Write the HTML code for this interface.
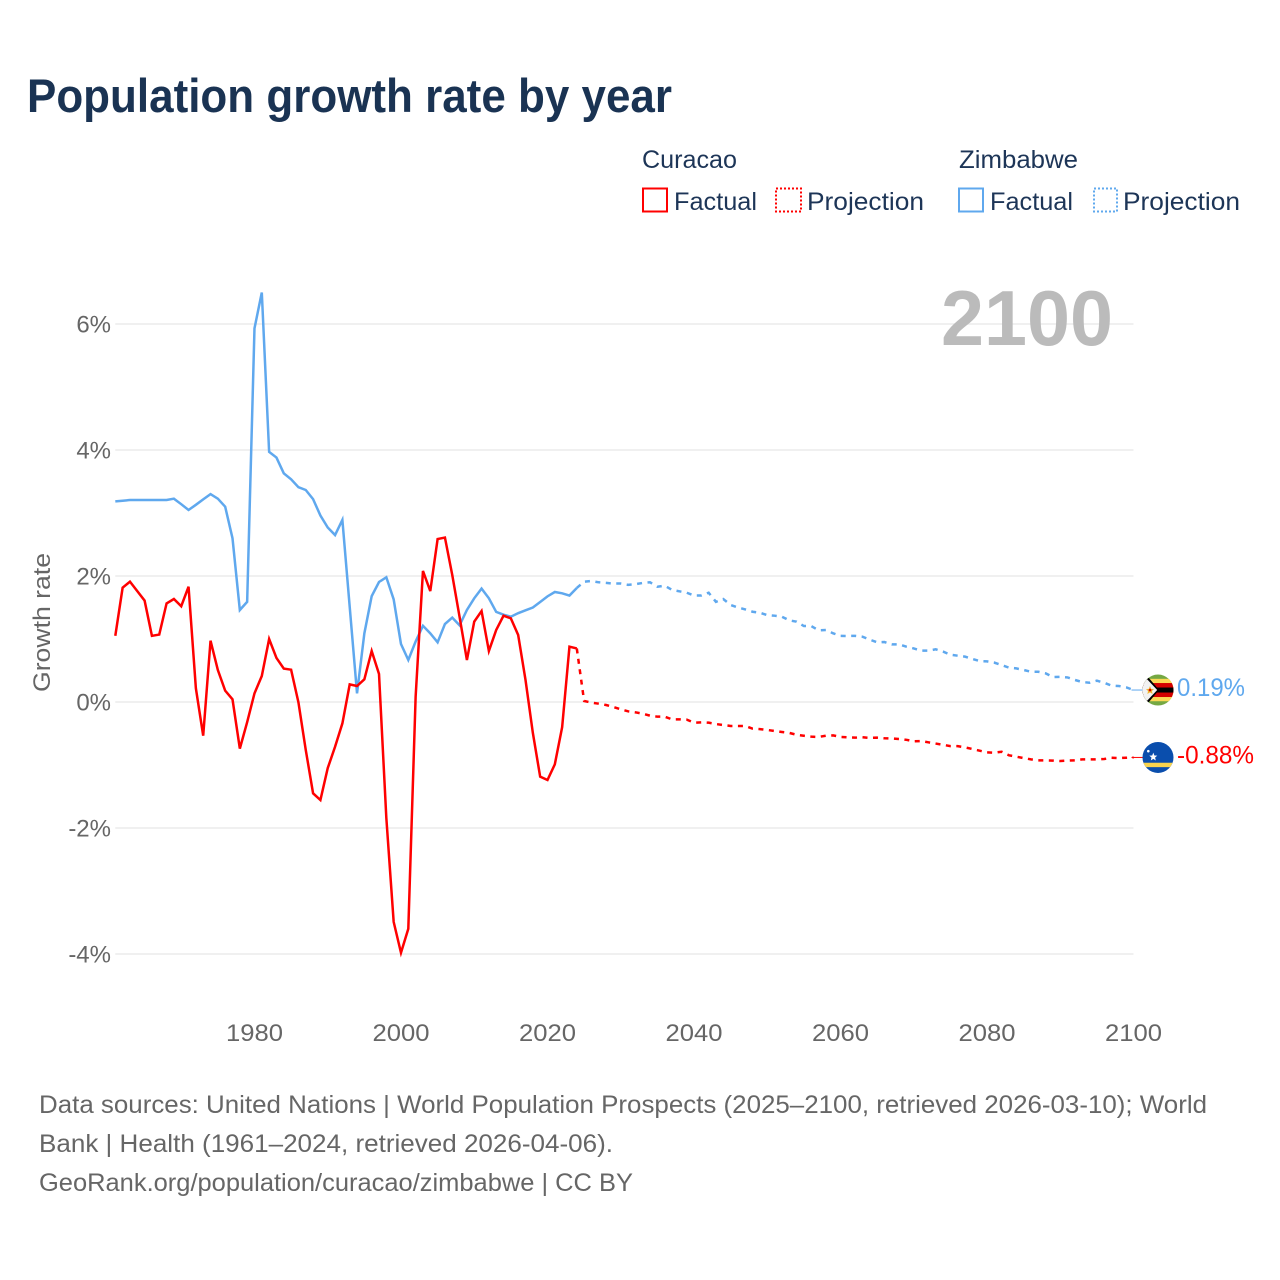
<!DOCTYPE html>
<html lang="en">
<head>
<meta charset="utf-8">
<title>Population growth rate by year</title>
<style>
html,body{margin:0;padding:0;background:#fff;}
svg{display:block;font-family:"Liberation Sans",sans-serif;}
</style>
</head>
<body>
<svg id="chart" xmlns="http://www.w3.org/2000/svg" width="1280" height="1280" viewBox="0 0 1280 1280">
  <rect width="1280" height="1280" fill="#fff"/>
  <text x="27" y="112" font-size="47" font-weight="700" fill="#1a3353" textLength="645" lengthAdjust="spacingAndGlyphs">Population growth rate by year</text>

  <g font-size="25" fill="#1d3557">
    <text x="642" y="168" textLength="95" lengthAdjust="spacingAndGlyphs">Curacao</text>
    <text x="959" y="168" textLength="119" lengthAdjust="spacingAndGlyphs">Zimbabwe</text>
    <rect x="643" y="188.500" width="24" height="23" fill="none" stroke="#ff0000" stroke-width="2"/>
    <text x="674" y="210" textLength="83" lengthAdjust="spacingAndGlyphs">Factual</text>
    <rect x="776" y="188.500" width="25" height="23" fill="none" stroke="#ff0000" stroke-width="2" stroke-dasharray="2 2"/>
    <text x="807" y="210" textLength="117" lengthAdjust="spacingAndGlyphs">Projection</text>
    <rect x="959" y="188.500" width="24" height="23" fill="none" stroke="#5fa8ee" stroke-width="2"/>
    <text x="990" y="210" textLength="83" lengthAdjust="spacingAndGlyphs">Factual</text>
    <rect x="1094" y="188.500" width="23" height="23" fill="none" stroke="#5fa8ee" stroke-width="2" stroke-dasharray="2 2"/>
    <text x="1123" y="210" textLength="117" lengthAdjust="spacingAndGlyphs">Projection</text>
  </g>

  <g id="grid"></g>
  <g id="yticks" font-size="24" fill="#666"></g>
  <g id="xticks" font-size="24" fill="#666"></g>
  <text transform="translate(50,622.500) rotate(-90)" text-anchor="middle" font-size="24" fill="#666" textLength="139" lengthAdjust="spacingAndGlyphs">Growth rate</text>
  <text x="941" y="345" font-size="78" font-weight="700" fill="#bbbbbb" textLength="172" lengthAdjust="spacingAndGlyphs">2100</text>

  <g id="series"></g>

  <defs>
    <clipPath id="clip-zw"><circle id="clip-zw-circle" cx="0" cy="0" r="15.500"/></clipPath>
    <clipPath id="clip-cw"><circle id="clip-cw-circle" cx="0" cy="0" r="15.500"/></clipPath>
  </defs>

  <g id="flag-zw">
    <g clip-path="url(#clip-zw)">
      <rect x="-16" y="-16" width="32" height="32" fill="#75a843"/>
      <rect x="-16" y="-11.200" width="32" height="22.400" fill="#fcd856"/>
      <rect x="-16" y="-7" width="32" height="14" fill="#d40000"/>
      <rect x="-16" y="-2.500" width="32" height="5" fill="#000"/>
      <polygon points="-16,-15.500 -16,15.500 -12,15.500 1,0 -12,-15.500" fill="#000"/>
      <polygon points="-16,-15 -16,15 -13,13 -0.800,0 -13,-13" fill="#f2f2f2"/>
      <polygon points="-8,-4 -6.800,-1.200 -4,-1 -6,1 -5.400,4 -8,2.400 -10.600,4 -10,1 -12,-1 -9.200,-1.200" fill="#f2b632"/>
      <circle cx="-8" cy="0" r="1.300" fill="#d40000"/>
    </g>
  </g>
  <g id="flag-cw">
    <g clip-path="url(#clip-cw)">
      <rect x="-16" y="-16" width="32" height="32" fill="#0a4ead"/>
      <rect x="-16" y="5.300" width="32" height="4.400" fill="#f9d44e"/>
      <polygon points="-4.700,-4.800 -3.600,-2 -0.700,-1.800 -2.900,0.100 -2.200,3 -4.700,1.400 -7.200,3 -6.500,0.100 -8.700,-1.800 -5.800,-2" fill="#fff"/>
      <circle cx="-9.700" cy="-6.300" r="1.300" fill="#fff"/>
    </g>
  </g>

  <text id="end-zw" x="1177" font-size="25" fill="#5fa8ee" textLength="68" lengthAdjust="spacingAndGlyphs">0.19%</text>
  <text id="end-cw" x="1177" font-size="25" fill="#ff0000" textLength="77" lengthAdjust="spacingAndGlyphs">-0.88%</text>

  <g font-size="25" fill="#666">
    <text x="39" y="1113" textLength="1168" lengthAdjust="spacingAndGlyphs">Data sources: United Nations | World Population Prospects (2025–2100, retrieved 2026-03-10); World</text>
    <text x="39" y="1152" textLength="574" lengthAdjust="spacingAndGlyphs">Bank | Health (1961–2024, retrieved 2026-04-06).</text>
    <text x="39" y="1191" textLength="594" lengthAdjust="spacingAndGlyphs">GeoRank.org/population/curacao/zimbabwe | CC BY</text>
  </g>
</svg>
<script>
const firstYear = 1961;
const projectionStartYear = 2024;
const xTickYears = [1980, 2000, 2020, 2040, 2060, 2080, 2100];
const yTickValues = [6, 4, 2, 0, -2, -4];

const curacaoFactual = [1.05,1.815,1.91,1.76,1.61,1.05,1.07,1.565,1.635,1.52,1.83,0.217,-0.535,0.973,0.508,0.18,0.043,-0.74,-0.32,0.137,0.413,1.0,0.70,0.53,0.513,-0.005,-0.76,-1.45,-1.556,-1.05,-0.71,-0.34,0.28,0.254,0.36,0.81,0.444,-1.84,-3.49,-3.98,-3.60,0.085,2.08,1.76,2.587,2.61,2.016,1.35,0.667,1.275,1.444,0.81,1.143,1.37,1.328,1.063,0.35,-0.49,-1.185,-1.238,-0.99,-0.40,0.878,0.85];
const curacaoProjection = [0.85,0.016,-0.01,-0.027,-0.048,-0.08,-0.116,-0.148,-0.164,-0.185,-0.217,-0.233,-0.233,-0.275,-0.275,-0.28,-0.328,-0.323,-0.328,-0.35,-0.365,-0.38,-0.38,-0.38,-0.423,-0.43,-0.444,-0.46,-0.476,-0.49,-0.52,-0.535,-0.55,-0.555,-0.535,-0.53,-0.555,-0.56,-0.566,-0.56,-0.57,-0.566,-0.576,-0.58,-0.587,-0.60,-0.624,-0.62,-0.64,-0.66,-0.68,-0.70,-0.70,-0.72,-0.746,-0.773,-0.80,-0.805,-0.79,-0.846,-0.868,-0.89,-0.91,-0.926,-0.926,-0.93,-0.937,-0.93,-0.926,-0.91,-0.91,-0.91,-0.905,-0.885,-0.89,-0.885,-0.88];
const zimbabweFactual = [3.185,3.195,3.206,3.206,3.206,3.206,3.206,3.206,3.227,3.14,3.048,3.13,3.217,3.30,3.227,3.10,2.60,1.46,1.59,5.93,6.50,3.97,3.88,3.63,3.535,3.41,3.365,3.22,2.96,2.77,2.65,2.89,1.51,0.137,1.09,1.68,1.905,1.98,1.63,0.92,0.667,0.96,1.21,1.09,0.947,1.238,1.34,1.217,1.46,1.646,1.80,1.646,1.43,1.386,1.354,1.41,1.455,1.50,1.587,1.677,1.746,1.725,1.69,1.81];
const zimbabweProjection = [1.81,1.91,1.92,1.90,1.89,1.88,1.88,1.86,1.87,1.89,1.90,1.83,1.846,1.78,1.757,1.735,1.69,1.69,1.735,1.59,1.635,1.54,1.50,1.47,1.433,1.417,1.38,1.37,1.354,1.296,1.275,1.206,1.206,1.138,1.143,1.09,1.05,1.048,1.05,1.037,0.99,0.947,0.952,0.915,0.915,0.878,0.85,0.815,0.815,0.836,0.80,0.75,0.735,0.72,0.683,0.65,0.645,0.625,0.587,0.545,0.533,0.508,0.48,0.48,0.455,0.397,0.40,0.39,0.35,0.317,0.306,0.338,0.306,0.26,0.254,0.233,0.19];

const SVG_NS = 'http://www.w3.org/2000/svg';
const plotLeft = 115.300;
const plotRight = 1133.500;
const colorCuracao = '#ff0000';
const colorZimbabwe = '#5fa8ee';

function xScale(year) {
  return plotLeft + (year - firstYear) * (plotRight - plotLeft) / (2100 - firstYear);
}
function yScale(value) {
  return 702 - value * 63;
}
function pathFrom(values, startYear) {
  return values.map(function (v, i) {
    return (i ? 'L' : 'M') + xScale(startYear + i).toFixed(2) + ' ' + yScale(v).toFixed(2);
  }).join('');
}
function make(tag, attrs, parent) {
  const el = document.createElementNS(SVG_NS, tag);
  Object.keys(attrs).forEach(function (k) { el.setAttribute(k, attrs[k]); });
  parent.appendChild(el);
  return el;
}

const gridGroup = document.getElementById('grid');
const yTickGroup = document.getElementById('yticks');
yTickValues.forEach(function (v) {
  const line = make('line', {x1: plotLeft, x2: plotRight, y1: yScale(v), y2: yScale(v), stroke: '#ebebeb', 'stroke-width': 1.5}, gridGroup);
  
  
  const label = make('text', {x: 111, y: yScale(v) + 8.500, 'text-anchor': 'end'}, yTickGroup);
  
  
  label.textContent = v + '%';
});

const xTickGroup = document.getElementById('xticks');
xTickYears.forEach(function (year) {
  const label = make('text', {x: xScale(year), y: 1041, 'text-anchor': 'middle', textLength: 57, lengthAdjust: 'spacingAndGlyphs'}, xTickGroup);
  
  
  label.textContent = year;
});

const seriesGroup = document.getElementById('series');
function drawSeries(name, color, factual, projection) {
  const solid = make('path', {d: pathFrom(factual, firstYear), fill: 'none', stroke: color, 'stroke-width': 2.500}, seriesGroup);
  
  
  const dashed = make('path', {d: pathFrom(projection, projectionStartYear), fill: 'none', stroke: color, 'stroke-width': 2.500, 'stroke-dasharray': '5 5.500'}, seriesGroup);
  
  
  const endValue = projection[projection.length - 1];
  const connector = make('line', {x1: xScale(2100) - 2, x2: 1144, y1: yScale(endValue), y2: yScale(endValue), stroke: color, 'stroke-width': 1}, seriesGroup);
  
  
}
drawSeries('zimbabwe', colorZimbabwe, zimbabweFactual, zimbabweProjection);
drawSeries('curacao', colorCuracao, curacaoFactual, curacaoProjection);

const zwEnd = yScale(zimbabweProjection[zimbabweProjection.length - 1]);
const cwEnd = yScale(curacaoProjection[curacaoProjection.length - 1]);
document.getElementById('flag-zw').setAttribute('transform', 'translate(1158,' + zwEnd + ')');
document.getElementById('flag-cw').setAttribute('transform', 'translate(1158,' + cwEnd + ')');
document.getElementById('end-zw').setAttribute('y', zwEnd + 6);
document.getElementById('end-cw').setAttribute('y', cwEnd + 6);
</script>
</body>
</html>
